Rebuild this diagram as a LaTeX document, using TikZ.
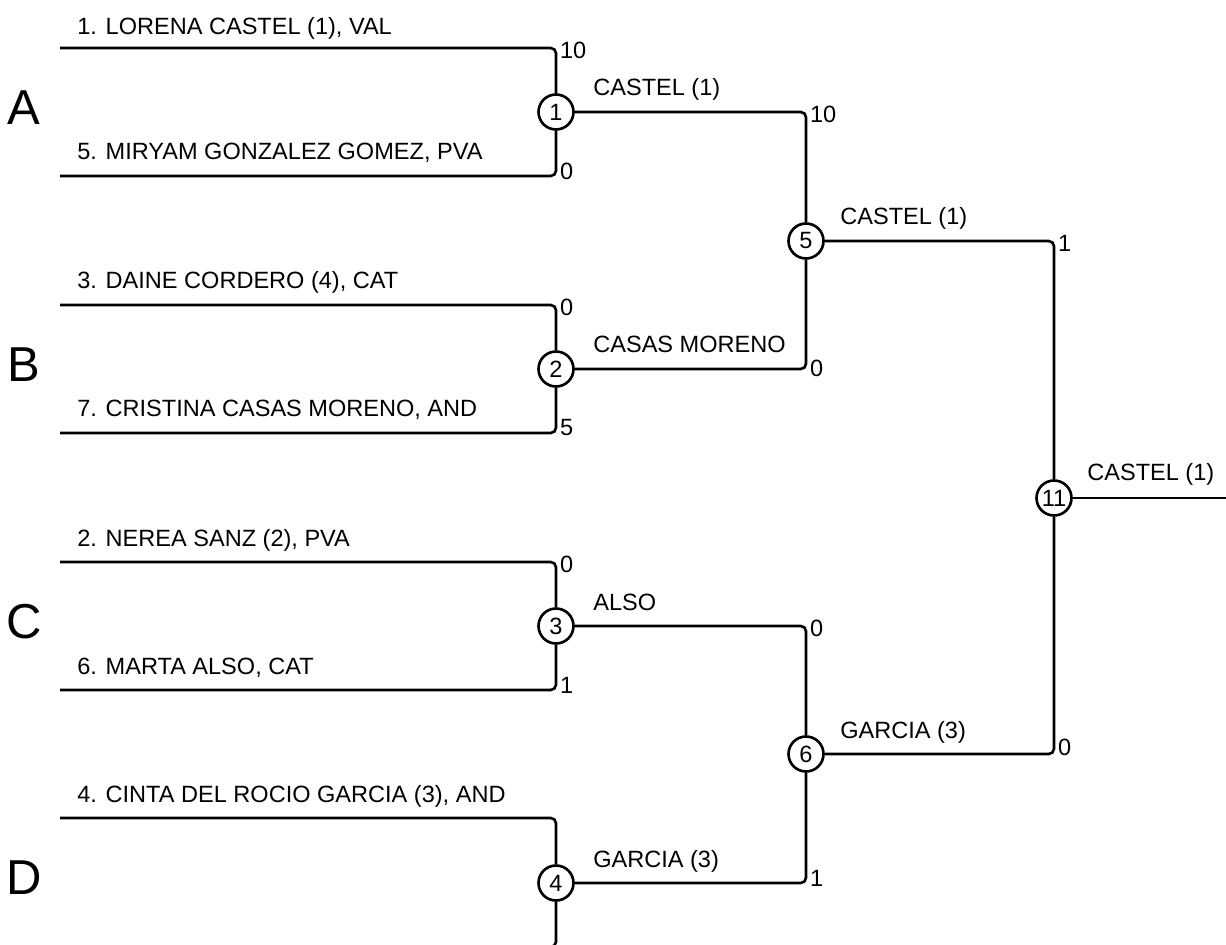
\documentclass[tikz,border=0pt]{standalone}
\usepackage{fontspec}
\setmainfont{Liberation Sans}
\usetikzlibrary{positioning}

\begin{document}
\begin{tikzpicture}[
    x=0.02cm, y=-0.02cm,
    every node/.style={font=\fontsize{13.4}{16}\selectfont},
    bline/.style={line width=1.5pt, rounded corners=3pt},
    match/.style={circle, draw, line width=1.5pt, minimum size=0.7cm, inner sep=0pt},
    player/.style={anchor=base west, inner sep=0pt},
    score/.style={anchor=west, inner sep=1pt},
    group/.style={font=\fontsize{27.9}{30}\selectfont}
]
\useasboundingbox (0,0) rectangle (1226,945);
\clip (0,0) rectangle (1226,945);

% Groups
\node[group] (gA) at (24,108) {A};
\node[group] (gB) at (24,365) {B};
\node[group] (gC) at (24,622) {C};
\node[group] (gD) at (24,878) {D};

% Matches
\node[match] (m1) at (556,112) {1};
\node[match] (m2) at (556,369) {2};
\node[match] (m3) at (556,626) {3};
\node[match] (m4) at (556,883) {4};
\node[match] (m5) at (806,241) {5};
\node[match] (m6) at (806,754) {6};
\node[match] (m11) at (1054,498) {11};

% Round 1 line starts
\coordinate (p1) at (60,48);
\coordinate (p2) at (60,176);
\coordinate (p3) at (60,305);
\coordinate (p4) at (60,433);
\coordinate (p5) at (60,562);
\coordinate (p6) at (60,690);
\coordinate (p7) at (60,818);
\coordinate (p8) at (60,947);
\coordinate (fin) at (1226,498);

% Round 1
\draw[bline] (p1) -| (m1.north);
\draw[bline] (p2) -| (m1.south);
\draw[bline] (p3) -| (m2.north);
\draw[bline] (p4) -| (m2.south);
\draw[bline] (p5) -| (m3.north);
\draw[bline] (p6) -| (m3.south);
\draw[bline] (p7) -| (m4.north);
\draw[bline] (p8) -| (m4.south);

% Round 2 and 3
\draw[bline] (m1.east) -| (m5.north);
\draw[bline] (m2.east) -| (m5.south);
\draw[bline] (m3.east) -| (m6.north);
\draw[bline] (m4.east) -| (m6.south);
\draw[bline] (m5.east) -| (m11.north);
\draw[bline] (m6.east) -| (m11.south);
\draw[bline] (m11.east) -- (fin);

% Players
\node[player] (n1) at (77,35) {1. LORENA CASTEL (1), VAL};
\node[player] (n2) at (77,160) {5. MIRYAM GONZALEZ GOMEZ, PVA};
\node[player] (n3) at (77,289) {3. DAINE CORDERO (4), CAT};
\node[player] (n4) at (77,417) {7. CRISTINA CASAS MORENO, AND};
\node[player] (n5) at (77,546) {2. NEREA SANZ (2), PVA};
\node[player] (n6) at (77,674) {6. MARTA ALSO, CAT};
\node[player] (n7) at (77,802) {4. CINTA DEL ROCIO GARCIA (3), AND};

% Winners
\node[player] (w1) at (593,96) {CASTEL (1)};
\node[player] (w2) at (593,353) {CASAS MORENO};
\node[player] (w3) at (593,610) {ALSO};
\node[player] (w4) at (593,867) {GARCIA (3)};
\node[player] (w5) at (840,225) {CASTEL (1)};
\node[player] (w6) at (840,738) {GARCIA (3)};
\node[player] (w11) at (1087,480) {CASTEL (1)};

% Scores
\node[score] (s1) at (558,50) {10};
\node[score] (s2) at (558,171) {0};
\node[score] (s3) at (558,307) {0};
\node[score] (s4) at (558,428) {5};
\node[score] (s5) at (558,564) {0};
\node[score] (s6) at (558,685) {1};
\node[score] (s7) at (808,114) {10};
\node[score] (s8) at (808,368) {0};
\node[score] (s9) at (808,628) {0};
\node[score] (s10) at (808,878) {1};
\node[score] (s11) at (1056,243) {1};
\node[score] (s12) at (1056,747) {0};

\end{tikzpicture}
\end{document}
